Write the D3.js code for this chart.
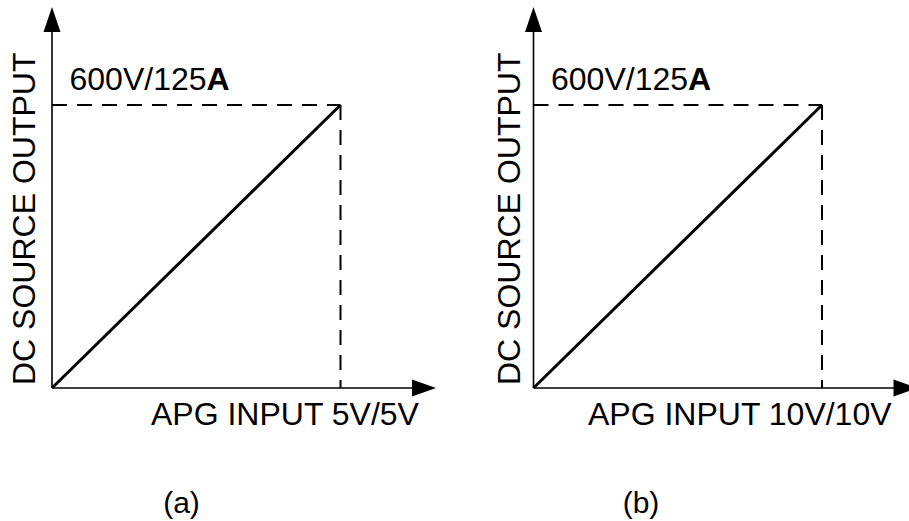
<!DOCTYPE html>
<html>
<head>
<meta charset="utf-8">
<script src="https://cdn.jsdelivr.net/npm/d3@7"></script>
<style>
  body { margin: 0; background: #fff; }
  text { font-family: Arial, "Liberation Sans", sans-serif; fill: #000; }
</style>
</head>
<body>
<div id="chart-area"></div>
<script>
// Data
const panelNames = ["(a)", "(b)"];
const inputMax = [5, 10];              // APG input full scale (V)
const inputLabels = ["APG INPUT 5V/5V", "APG INPUT 10V/10V"];
const outputMax = 600;                 // DC source output full scale (V)
const outputLabel = ["600V/125", "A"]; // "A" drawn bold
const yTitle = "DC SOURCE OUTPUT";

// Layout (pixels)
const W = 909, H = 521;
const originX = [52, 533.5];
const originY = 388;
const plotW = 288.5, plotH = 283;
const axisLenX = 384, axisLenY = 381;
const yTitleX = [35, 520];
const xLabelX = [151, 588];
const captionX = [181.5, 641];

const svg = d3.select("#chart-area")
  .append("svg")
    .attr("width", W)
    .attr("height", H);

panelNames.forEach((name, i) => {
  const g = svg.append("g")
    .attr("transform", "translate(" + originX[i] + "," + originY + ")");

  const x = d3.scaleLinear().domain([0, inputMax[i]]).range([0, plotW]);
  const y = d3.scaleLinear().domain([0, outputMax]).range([0, -plotH]);

  // dashed guides to the full scale point
  g.append("line")
    .attr("x1", 0).attr("x2", x(inputMax[i]))
    .attr("y1", y(outputMax)).attr("y2", y(outputMax))
    .attr("stroke", "#000").attr("stroke-width", 2)
    .attr("stroke-dasharray", "15,10");
  g.append("line")
    .attr("x1", x(inputMax[i])).attr("x2", x(inputMax[i]))
    .attr("y1", y(outputMax)).attr("y2", 0)
    .attr("stroke", "#000").attr("stroke-width", 2)
    .attr("stroke-dasharray", "15,10");

  // transfer line
  const line = d3.line().x(d => x(d[0])).y(d => y(d[1]));
  g.append("path")
    .attr("d", line([[0, 0], [inputMax[i], outputMax]]))
    .attr("fill", "none")
    .attr("stroke", "#000")
    .attr("stroke-width", 3);

  // axes with arrowheads
  g.append("line")
    .attr("x1", 0).attr("y1", 0).attr("x2", axisLenX - 20).attr("y2", 0)
    .attr("stroke", "#000").attr("stroke-width", 1.6);
  g.append("path")
    .attr("d", `M${axisLenX},0 L${axisLenX - 24},-8.5 L${axisLenX - 24},8.5 Z`)
    .attr("fill", "#000");
  g.append("line")
    .attr("x1", 0).attr("y1", 0).attr("x2", 0).attr("y2", -(axisLenY - 20))
    .attr("stroke", "#000").attr("stroke-width", 1.6);
  g.append("path")
    .attr("d", `M0,${-axisLenY} L-8.5,${-axisLenY + 25} L8.5,${-axisLenY + 25} Z`)
    .attr("fill", "#000");

  // full scale output label
  const t = g.append("text")
    .attr("x", 17.5)
    .attr("y", y(outputMax) - 15)
    .attr("font-size", "32px");
  t.append("tspan").text(outputLabel[0]);
  t.append("tspan").attr("font-weight", "bold").text(outputLabel[1]);

  // axis titles
  svg.append("text")
    .attr("transform", "translate(" + yTitleX[i] + "," + 385 + ") rotate(-90)")
    .attr("font-size", "32px")
    .text(yTitle);
  svg.append("text")
    .attr("x", xLabelX[i])
    .attr("y", 425)
    .attr("font-size", "32px")
    .text(inputLabels[i]);

  // caption
  svg.append("text")
    .attr("x", captionX[i])
    .attr("y", 513)
    .attr("text-anchor", "middle")
    .attr("font-size", "30px")
    .text(name);
});
</script>
</body>
</html>
